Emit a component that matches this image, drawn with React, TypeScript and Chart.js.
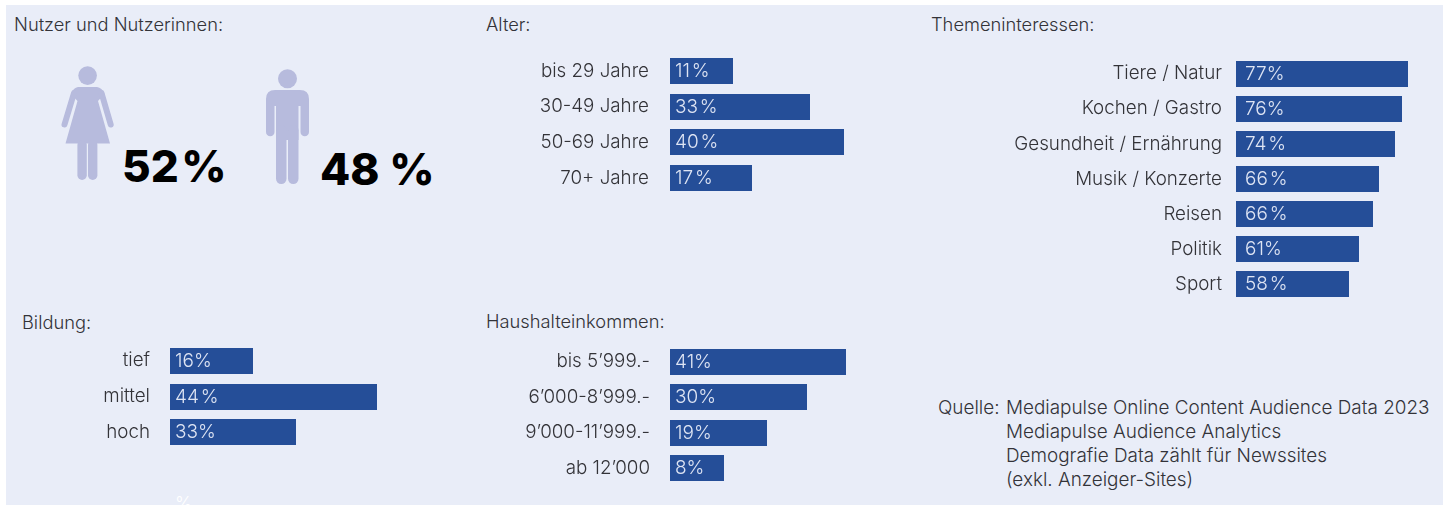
import React, { useEffect, useRef } from "react";
import { Chart, registerables } from "chart.js";

Chart.register(...registerables);

const FONT = "Inter";
const BG = "#e9edf8";
const BAR = "#254e98";
const INK = "#333338";
const BAR_TEXT = "#dfe5f4";
const FIGURE = "#b7bbdd";

// Printed percentages and bar lengths. In the source graphic the drawn bars are
// not strictly proportional to the printed labels, so both are read separately.
const ageCategories = ["bis 29 Jahre", "30-49 Jahre", "50-69 Jahre", "70+ Jahre"];
const ageLabels = ["11 %", "33 %", "40 %", "17 %"];
const ageLengths = [14.5, 32.2, 40, 18.9];

const topicCategories = ["Tiere / Natur", "Kochen / Gastro", "Gesundheit / Ernährung", "Musik / Konzerte", "Reisen", "Politik", "Sport"];
const topicLabels = ["77%", "76%", "74 %", "66 %", "66 %", "61%", "58 %"];
const topicLengths = [77, 74.3, 71.2, 64, 61.3, 55.1, 50.6];

const educationCategories = ["tief", "mittel", "hoch"];
const educationLabels = ["16%", "44 %", "33%"];
const educationLengths = [17.6, 44, 26.8];

const incomeCategories = ["bis 5’999.-", "6’000-8’999.-", "9’000-11’999.-", "ab 12’000"];
const incomeLabels = ["41%", "30%", "19%", "8%"];
const incomeLengths = [41, 31.9, 22.6, 12.5];

const sourceLines = [
  "Mediapulse Online Content Audience Data 2023",
  "Mediapulse Audience Analytics",
  "Demografie Data zählt für Newssites",
  "(exkl. Anzeiger-Sites)",
];

type BarPanelProps = {
  categories: string[];
  labels: string[];
  lengths: number[];
  left: number;
  top: number;
  height: number;
  axisWidth: number;
  plotWidth: number;
  max: number;
  tickPad: number;
  labelInset: number;
};

function BarPanel(p: BarPanelProps) {
  const ref = useRef<HTMLCanvasElement>(null);
  useEffect(() => {
    const valueLabels = {
      id: "valueLabels",
      // Keep the scale's bar positions but snap them to whole pixels for crisp edges.
      afterDatasetsUpdate(chart: any) {
        chart.getDatasetMeta(0).data.forEach((el: any) => {
          el.y = Math.round(el.y);
          el.x = Math.round(el.x);
        });
      },
      afterDatasetsDraw(chart: any) {
        const ctx = chart.ctx;
        ctx.save();
        ctx.font = `300 19px ${FONT}`;
        ctx.fillStyle = BAR_TEXT;
        ctx.textAlign = "left";
        ctx.textBaseline = "middle";
        ctx.wordSpacing = "-3.5px";
        chart.getDatasetMeta(0).data.forEach((el: any, i: number) => {
          ctx.fillText(p.labels[i], chart.chartArea.left + p.labelInset, el.y);
        });
        ctx.restore();
      },
    };
    const chart = new Chart(ref.current as HTMLCanvasElement, {
      type: "bar",
      data: {
        labels: p.categories,
        datasets: [{ data: p.lengths, backgroundColor: BAR, barThickness: 26, borderWidth: 0, inflateAmount: 0 }],
      },
      options: {
        indexAxis: "y",
        responsive: false,
        animation: false,
        layout: { padding: 0 },
        plugins: { legend: { display: false }, tooltip: { enabled: false }, title: { display: false } },
        scales: {
          x: { display: false, min: 0, max: p.max },
          y: {
            grid: { display: false, drawTicks: false },
            border: { display: false },
            afterFit: (s: any) => {
              s.width = p.axisWidth;
              s.paddingTop = 0;
              s.paddingBottom = 0;
            },
            ticks: {
              autoSkip: false,
              padding: p.tickPad,
              color: INK,
              font: { family: FONT, size: 18.8, weight: "300" },
            },
          },
        },
      },
      plugins: [valueLabels],
    } as any);
    return () => chart.destroy();
  }, []);
  return (
    <canvas
      ref={ref}
      width={p.axisWidth + p.plotWidth}
      height={p.height}
      style={{ position: "absolute", left: p.left, top: p.top, width: p.axisWidth + p.plotWidth, height: p.height }}
    />
  );
}

function Label({ x, y, children, style }: { x: number; y: number; children: React.ReactNode; style?: React.CSSProperties }) {
  return (
    <div style={{ position: "absolute", left: x, top: y - 12, lineHeight: "24px", fontFamily: FONT, fontSize: 18.3, fontWeight: 300, color: INK, whiteSpace: "nowrap", ...style }}>
      {children}
    </div>
  );
}

function Figures() {
  return (
    <svg width={1449} height={505} style={{ position: "absolute", left: 0, top: 0 }}>
      <g fill={FIGURE} stroke="none">
        <circle cx={87.6} cy={75.6} r={9.3} />
        <path d="M78 87 L97 87 Q102 87.5 104.5 94 L98 101 L110 143.5 L65.5 143.5 L77.5 101 L71 94 Q73.5 87.5 78 87 Z" />
        <path d="M74 93 L64.5 124.5 M101.5 93 L110.7 124.5" stroke={FIGURE} strokeWidth={6} strokeLinecap="round" fill="none" />
        <rect x={77.4} y={140} width={9.4} height={40} rx={4.7} />
        <rect x={88} y={140} width={9.4} height={40} rx={4.7} />
        <circle cx={287.5} cy={78.8} r={9.5} />
        <path d="M275 90 L300 90 Q309 90 309 99 L309 132 A4 4 0 0 1 300.5 132 L300.5 106 L298.5 106 L298.5 140 L276 140 L276 106 L274.5 106 L274.5 132 A4 4 0 0 1 266 132 L266 99 Q266 90 275 90 Z" />
        <rect x={276} y={125} width={10.5} height={59} rx={5.2} />
        <rect x={288} y={125} width={10.5} height={59} rx={5.2} />
      </g>
    </svg>
  );
}

const bigStyle: React.CSSProperties = { fontWeight: 800, fontSize: 44, color: "#000" };

export default function App() {
  return (
    <div style={{ position: "absolute", left: 0, top: 0, width: 1449, height: 505, background: "#fff", overflow: "hidden" }}>
      <div style={{ position: "absolute", left: 6, top: 5, width: 1437, height: 500, background: BG }} />
      <Figures />
      <Label x={14} y={24}>Nutzer und Nutzerinnen:</Label>
      <Label x={486} y={24}>Alter:</Label>
      <Label x={931} y={24}>Themeninteressen:</Label>
      <Label x={22} y={322}>Bildung:</Label>
      <Label x={486} y={321}>Haushalteinkommen:</Label>
      <Label x={122} y={166} style={{ ...bigStyle, wordSpacing: "-7px" }}>52 %</Label>
      <Label x={320} y={169} style={{ ...bigStyle, wordSpacing: "0px" }}>48 %</Label>
      <BarPanel categories={ageCategories} labels={ageLabels} lengths={ageLengths} left={490} top={53} height={143} axisWidth={180} plotWidth={200} max={45.98} tickPad={21} labelInset={5} />
      <BarPanel categories={topicCategories} labels={topicLabels} lengths={topicLengths} left={1000} top={56} height={246} axisWidth={236} plotWidth={180} max={80.58} tickPad={14} labelInset={9} />
      <BarPanel categories={educationCategories} labels={educationLabels} lengths={educationLengths} left={30} top={343} height={107} axisWidth={140} plotWidth={220} max={46.76} tickPad={20} labelInset={5} />
      <BarPanel categories={incomeCategories} labels={incomeLabels} lengths={incomeLengths} left={490} top={344} height={142} axisWidth={180} plotWidth={200} max={46.62} tickPad={20} labelInset={5} />
      <Label x={938} y={408} style={{ fontSize: 18.9 }}>Quelle:</Label>
      {sourceLines.map((line, i) => (
        <Label key={line} x={1006} y={408 + i * 24} style={{ fontSize: 18.9 }}>{line}</Label>
      ))}
      <Label x={175} y={503} style={{ color: "#fff" }}>%</Label>
    </div>
  );
}
